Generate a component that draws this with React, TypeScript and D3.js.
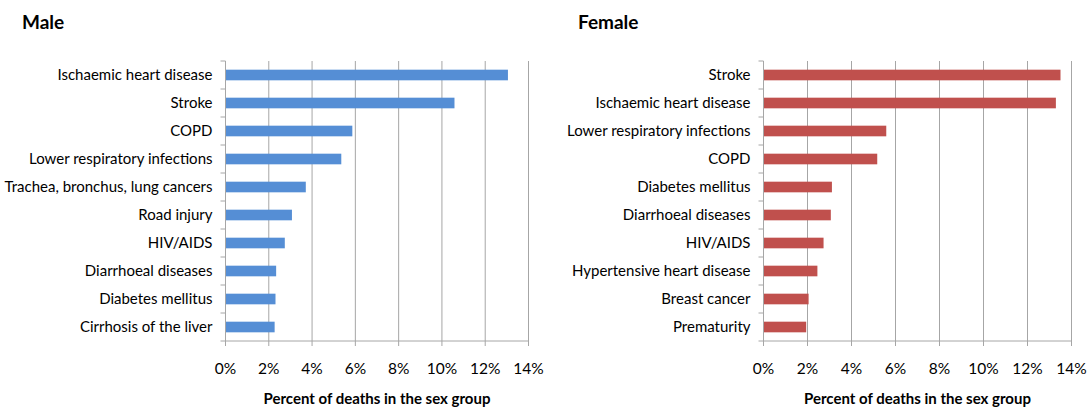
import React from "react";
import * as d3 from "d3";

const maleCauses = [
  "Ischaemic heart disease",
  "Stroke",
  "COPD",
  "Lower respiratory infections",
  "Trachea, bronchus, lung cancers",
  "Road injury",
  "HIV/AIDS",
  "Diarrhoeal diseases",
  "Diabetes mellitus",
  "Cirrhosis of the liver",
];
const maleValues = [13.05, 10.58, 5.86, 5.35, 3.71, 3.07, 2.74, 2.34, 2.31, 2.27];

const femaleCauses = [
  "Stroke",
  "Ischaemic heart disease",
  "Lower respiratory infections",
  "COPD",
  "Diabetes mellitus",
  "Diarrhoeal diseases",
  "HIV/AIDS",
  "Hypertensive heart disease",
  "Breast cancer",
  "Prematurity",
];
const femaleValues = [13.5, 13.29, 5.58, 5.17, 3.11, 3.06, 2.73, 2.45, 2.05, 1.94];

const xTicks = [0, 2, 4, 6, 8, 10, 12, 14];
const axisTitle = "Percent of deaths in the sex group";

const FONT = "Lato, 'Open Sans', sans-serif";
const GRID = "#a6a6a6";

type PanelProps = {
  title: string;
  titleX: number;
  causes: string[];
  values: number[];
  x0: number;
  x1: number;
  color: string;
};

function Panel({ title, titleX, causes, values, x0, x1, color }: PanelProps) {
  const top = 61;
  const bottom = 341;
  const x = d3.scaleLinear().domain([0, 14]).range([x0, x1]);
  const y = d3.scaleBand<string>().domain(causes).range([top, bottom]).paddingInner(0.62).paddingOuter(0.31);
  const step = y.step();
  return (
    <g>
      <text x={titleX} y={29} fontFamily={FONT} fontWeight="bold" fontSize={19} fill="#000">
        {title}
      </text>
      {xTicks.slice(1).map((t) => (
        <line key={"g" + t} x1={x(t)} x2={x(t)} y1={top} y2={bottom} stroke={GRID} strokeWidth={1} />
      ))}
      {causes.map((c, i) => (
        <rect
          key={c}
          x={x(0)}
          y={y(c)!}
          width={x(values[i]) - x(0)}
          height={y.bandwidth()}
          fill={color}
        />
      ))}
      {/* y axis */}
      <line x1={x(0)} x2={x(0)} y1={top} y2={bottom} stroke={GRID} />
      {d3.range(causes.length + 1).map((i) => (
        <line key={"yt" + i} x1={x(0) - 5} x2={x(0)} y1={top + i * step} y2={top + i * step} stroke={GRID} />
      ))}
      {causes.map((c) => (
        <text
          key={"l" + c}
          x={x(0) - 13}
          y={y(c)! + y.bandwidth() / 2}
          dy="0.36em"
          textAnchor="end"
          fontFamily={FONT}
          fontSize={15}
          fill="#000"
        >
          {c}
        </text>
      ))}
      {/* x axis */}
      <line x1={x(0)} x2={x(14)} y1={bottom} y2={bottom} stroke={GRID} />
      {xTicks.map((t) => (
        <g key={"xt" + t}>
          <line x1={x(t)} x2={x(t)} y1={bottom} y2={bottom + 5} stroke={GRID} />
          <text x={x(t)} y={374} textAnchor="middle" fontFamily={FONT} fontSize={15.5} fill="#000">
            {t + "%"}
          </text>
        </g>
      ))}
      <text
        x={(x(0) + x(14)) / 2}
        y={404}
        textAnchor="middle"
        fontFamily={FONT}
        fontWeight="bold"
        fontSize={15}
        fill="#000"
      >
        {axisTitle}
      </text>
    </g>
  );
}

export default function App() {
  return (
    <svg
      width={1087}
      height={409}
      style={{ position: "absolute", left: 0, top: 0, background: "#fff" }}
    >
      <Panel title="Male" titleX={22} causes={maleCauses} values={maleValues} x0={225.5} x1={528.5} color="#558ED5" />
      <Panel title="Female" titleX={578} causes={femaleCauses} values={femaleValues} x0={763.5} x1={1071.5} color="#C0504D" />
    </svg>
  );
}
